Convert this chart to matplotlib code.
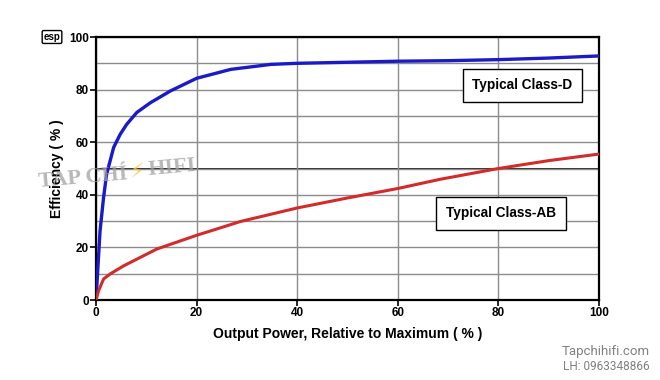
# Efficiency vs output power, class-D vs class-AB
import matplotlib.pyplot as plt
from matplotlib.ticker import MultipleLocator

# values
d_power = [0, 0.3, 0.8, 1.5, 2.1, 2.8, 3.5, 4.8, 6.1, 8.1, 10.8, 14.8, 20,
           26.8, 34.8, 40, 50, 60, 70, 80, 90, 100]
d_eff = [0, 10, 26.3, 39, 47.8, 52.9, 58, 63, 66.8, 71.3, 75, 79.5, 84.3,
         87.7, 89.6, 90, 90.4, 90.8, 91, 91.4, 92, 92.8]

ab_power = [0, 0.5, 1.5, 2.8, 5.5, 8.8, 12.1, 20, 28.8, 40, 50, 60, 68.4,
            80, 90, 100]
ab_eff = [0, 3.5, 8, 9.9, 13, 16.2, 19.4, 24.6, 29.9, 35, 38.8, 42.4, 45.9,
          50, 53, 55.5]

x_ticks = [0, 20, 40, 60, 80, 100]
y_ticks = [0, 20, 40, 60, 80, 100]

plt.rcParams['font.family'] = ['Liberation Sans', 'DejaVu Sans']

fig = plt.figure(figsize=(6.6, 3.8), dpi=100)
ax = fig.add_axes([0.1455, 0.2105, 0.7621, 0.6921])

ax.set_xlim(0, 100)
ax.set_ylim(0, 100)
ax.set_xticks(x_ticks)
ax.set_yticks(y_ticks)
ax.yaxis.set_minor_locator(MultipleLocator(10))
ax.grid(which='both', color='#8c8c8c', linewidth=1)
ax.axhline(50, color='black', linewidth=1.2, zorder=1.5)
ax.tick_params(which='major', length=4, width=1.2, labelsize=8.5, pad=1)
ax.tick_params(which='minor', length=0)
for lab in ax.get_xticklabels() + ax.get_yticklabels():
    lab.set_fontweight('bold')
for s in ax.spines.values():
    s.set_linewidth(1.6)

ax.plot(d_power, d_eff, color='#1a1ac8', linewidth=2.4, zorder=3)
ax.plot(ab_power, ab_eff, color='#d42a2a', linewidth=2.2, zorder=3)

box = dict(boxstyle='square,pad=0.7', facecolor='white', edgecolor='black', linewidth=1)
ax.text(84.8, 81.6, 'Typical Class-D', ha='center', va='center', fontsize=9.8,
        fontweight='bold', bbox=box, zorder=4)
ax.text(80.5, 33, 'Typical Class-AB', ha='center', va='center', fontsize=9.8,
        fontweight='bold', bbox=box, zorder=4)

ax.set_xlabel('Output Power, Relative to Maximum ( % )', fontsize=10,
              fontweight='bold', labelpad=6)
ax.set_ylabel('Efficiency ( % )', fontsize=10, fontweight='bold', labelpad=4)

# logo + watermarks
fig.text(52 / 660, 1 - 37 / 380, 'esp', fontsize=7, fontweight='bold',
         ha='center', va='center',
         bbox=dict(boxstyle='round,pad=0.15', facecolor='white', edgecolor='black', linewidth=1))
fig.text(38 / 660, 1 - 178 / 380, 'TAP CHÍ', fontsize=16, fontweight='bold',
         family='Liberation Serif', color='#a0a0a0', alpha=0.75, rotation=5,
         ha='left', va='center')
fig.text(137 / 660, 1 - 172 / 380, '⚡', fontsize=15, color='#f5c542', alpha=0.8,
         ha='center', va='center', family='DejaVu Sans')
fig.text(147 / 660, 1 - 168 / 380, 'HIFI', fontsize=16, fontweight='bold',
         family='Liberation Serif', color='#a0a0a0', alpha=0.75, rotation=5,
         ha='left', va='center')
fig.text(650 / 660, 1 - 352 / 380, 'Tapchihifi.com', fontsize=9.5, color='#808080',
         family='Roboto', ha='right', va='center')
fig.text(650 / 660, 1 - 367 / 380, 'LH: 0963348866', fontsize=8.5, color='#808080',
         family='Roboto', ha='right', va='center')

fig.savefig('out.png', dpi=100)
